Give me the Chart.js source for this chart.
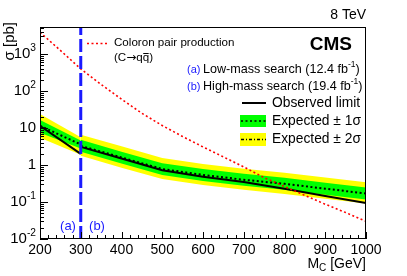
<!DOCTYPE html>
<html>
<head>
<meta charset="utf-8">
<script src="https://cdn.jsdelivr.net/npm/chart.js@4"></script>
<style>
  body { margin: 0; background: #fff; }
  canvas { display: block; }
</style>
</head>
<body>
<canvas id="grafico" width="407" height="276"></canvas>
<script>
// masses in GeV, cross sections in pb
const massLow = [200, 300];
const obsLow = [11.5, 2.0];
const expLow = [11.5, 3.6];
const g1LowUp = [16.5, 4.6];
const g1LowDn = [7.5, 2.8];
const y2LowUp = [24, 5.6];
const y2LowDn = [5.5, 1.9];

const massHigh = [300, 400, 500, 600, 700, 800, 900, 1000];
const obsHigh = [3.1, 1.5, 0.72, 0.48, 0.35, 0.23, 0.145, 0.094];
const expHigh = [3.3, 1.6, 0.78, 0.54, 0.40, 0.31, 0.23, 0.17];
const g1HighUp = [4.8, 2.3, 1.12, 0.78, 0.58, 0.45, 0.33, 0.245];
const g1HighDn = [2.3, 1.1, 0.54, 0.37, 0.275, 0.214, 0.158, 0.117];
const y2HighUp = [6.6, 3.2, 1.55, 1.07, 0.79, 0.62, 0.46, 0.34];
const y2HighDn = [1.78, 0.85, 0.42, 0.29, 0.214, 0.166, 0.123, 0.091];

const coloronMass = [200, 250, 300, 350, 400, 450, 500, 550, 600, 650, 700, 750, 800, 850, 900, 950, 1000];
const coloronXsec = [3890, 1260, 398, 151, 60.3, 25.1, 11.7, 5.9, 3.09, 1.66, 0.89, 0.457, 0.263, 0.151, 0.087, 0.052, 0.030];

const splitMass = [300, 300];
const splitXsec = [0.01, 5400];

const yDecades = [-2, -1, 0, 1, 2, 3];
const xTicks = [200, 300, 400, 500, 600, 700, 800, 900, 1000];

const FONT = "'Liberation Sans', Arial, sans-serif";

function pts(xs, ys) { return xs.map((v, i) => ({x: v, y: ys[i]})); }

function linea(data, color, width, dash) {
  return {data: data, borderColor: color, borderWidth: width, borderDash: dash || [],
          pointRadius: 0, fill: false, tension: 0};
}
function banda(data, color) {
  return {data: data, borderWidth: 0, borderColor: 'rgba(0,0,0,0)', backgroundColor: color,
          pointRadius: 0, fill: '+1', tension: 0};
}
function borde(data) {
  return {data: data, borderWidth: 0, borderColor: 'rgba(0,0,0,0)', pointRadius: 0, fill: false, tension: 0};
}

const VERDE = '#00ff00', AMARILLO = '#ffff00', AZUL = '#1a1aff', ROJO = '#ff0000';

// dibuja "base" con superindice, alineado a la derecha en xr
function potencia(ctx, base, sup, xr, yc, size) {
  ctx.font = size + 'px ' + FONT;
  const wb = ctx.measureText(base).width;
  ctx.font = (size * 0.68) + 'px ' + FONT;
  const ws = sup ? ctx.measureText(sup).width : 0;
  ctx.textAlign = 'left';
  ctx.textBaseline = 'middle';
  ctx.font = size + 'px ' + FONT;
  ctx.fillText(base, xr - ws - wb, yc);
  if (sup) {
    ctx.font = (size * 0.68) + 'px ' + FONT;
    ctx.fillText(sup, xr - ws, yc - size * 0.42);
  }
}

const extras = {
  id: 'extras',
  afterDraw(chart) {
    const {ctx, chartArea: a, scales: {x, y}} = chart;
    ctx.save();
    ctx.strokeStyle = '#000';
    ctx.lineWidth = 1;
    ctx.strokeRect(a.left + 0.5, a.top + 0.5, a.right - a.left - 1, a.bottom - a.top - 1);

    ctx.beginPath();
    for (let m = 200; m <= 1000; m += 20) {
      const px = Math.round(x.getPixelForValue(m)) + 0.5;
      const len = m % 100 === 0 ? 7 : 4;
      ctx.moveTo(px, a.bottom);
      ctx.lineTo(px, a.bottom - len);
    }
    for (let e = -2; e <= 3; e++) {
      for (let k = 1; k <= 9; k++) {
        const v = k * Math.pow(10, e);
        if (v > y.max) break;
        const py = Math.round(y.getPixelForValue(v)) + 0.5;
        ctx.moveTo(a.left, py);
        ctx.lineTo(a.left + (k === 1 ? 8 : 4), py);
      }
    }
    ctx.stroke();

    // etiquetas eje y
    ctx.fillStyle = '#000';
    yDecades.forEach(e => {
      const py = y.getPixelForValue(Math.pow(10, e));
      if (e === 0) potencia(ctx, '1', '', a.left - 4, py, 15);
      else if (e === 1) potencia(ctx, '10', '', a.left - 4, py, 15);
      else potencia(ctx, '10', String(e), a.left - 4, py, 15);
    });

    // titulo eje y
    ctx.save();
    ctx.translate(10, 22);
    ctx.rotate(-Math.PI / 2);
    ctx.font = '15px ' + FONT;
    ctx.textAlign = 'right';
    ctx.textBaseline = 'middle';
    ctx.fillText('\u03c3 [pb]', 0, 0);
    ctx.restore();

    // titulo eje x
    ctx.font = '14px ' + FONT;
    const w1 = ctx.measureText('M').width;
    const w3 = ctx.measureText(' [GeV]').width;
    ctx.font = '10px ' + FONT;
    const w2 = ctx.measureText('C').width;
    let xs = a.right - (w1 + w2 + w3);
    ctx.textAlign = 'left';
    ctx.textBaseline = 'middle';
    ctx.font = '14px ' + FONT;
    ctx.fillText('M', xs, 264);
    ctx.font = '10px ' + FONT;
    ctx.fillText('C', xs + w1, 268);
    ctx.font = '14px ' + FONT;
    ctx.fillText(' [GeV]', xs + w1 + w2, 264);

    // 8 TeV
    ctx.textAlign = 'right';
    ctx.font = '14px ' + FONT;
    ctx.fillText('8 TeV', a.right, 15);

    // CMS
    ctx.font = 'bold 19px ' + FONT;
    ctx.fillText('CMS', 352, 45);

    // (a) (b) abajo
    ctx.fillStyle = AZUL;
    ctx.textAlign = 'center';
    ctx.font = '13px ' + FONT;
    ctx.fillText('(a)', 68, 226);
    ctx.fillText('(b)', 97, 226);

    // leyenda coloron
    ctx.strokeStyle = ROJO;
    ctx.lineWidth = 1.6;
    ctx.setLineDash([2, 2.5]);
    ctx.beginPath();
    ctx.moveTo(87, 43.5);
    ctx.lineTo(108, 43.5);
    ctx.stroke();
    ctx.setLineDash([]);
    ctx.fillStyle = '#000';
    ctx.textAlign = 'left';
    ctx.font = '11.6px ' + FONT;
    ctx.fillText('Coloron pair production', 114, 43);
    let xc = 114;
    ctx.fillText('(C', xc, 58);
    xc += ctx.measureText('(C').width;
    ctx.font = "12px 'DejaVu Sans', sans-serif";
    ctx.fillText('\u2192', xc, 58);
    xc += ctx.measureText('\u2192').width;
    ctx.font = '11.6px ' + FONT;
    const wq = ctx.measureText('q').width;
    ctx.fillText('qq)', xc, 58);
    ctx.lineWidth = 1;
    ctx.strokeStyle = '#000';
    ctx.beginPath();
    ctx.moveTo(xc + wq + 0.5, 53.5);
    ctx.lineTo(xc + 2 * wq - 0.5, 53.5);
    ctx.stroke();

    // leyenda busquedas
    const filas = [['(a)', 'Low-mass search (12.4 fb', 70], ['(b)', 'High-mass search (19.4 fb', 87]];
    filas.forEach(f => {
      ctx.fillStyle = AZUL;
      ctx.font = '11px ' + FONT;
      ctx.fillText(f[0], 187, f[2]);
      ctx.fillStyle = '#000';
      ctx.font = '12.6px ' + FONT;
      ctx.fillText(f[1], 203, f[2]);
      let xx = 203 + ctx.measureText(f[1]).width;
      ctx.font = '8.5px ' + FONT;
      ctx.fillText('-1', xx, f[2] - 5);
      xx += ctx.measureText('-1').width;
      ctx.font = '12.6px ' + FONT;
      ctx.fillText(')', xx, f[2]);
    });

    // observado / esperado
    ctx.strokeStyle = '#000';
    ctx.lineWidth = 2;
    ctx.beginPath();
    ctx.moveTo(242, 103);
    ctx.lineTo(266, 103);
    ctx.stroke();
    ctx.fillStyle = VERDE;
    ctx.fillRect(240, 115, 26, 12);
    ctx.fillStyle = AMARILLO;
    ctx.fillRect(240, 133, 26, 13);
    ctx.lineWidth = 1.5;
    ctx.setLineDash([2, 2.5]);
    ctx.beginPath();
    ctx.moveTo(241, 121);
    ctx.lineTo(266, 121);
    ctx.stroke();
    ctx.setLineDash([3, 2, 1, 2]);
    ctx.beginPath();
    ctx.moveTo(241, 139.5);
    ctx.lineTo(266, 139.5);
    ctx.stroke();
    ctx.setLineDash([]);
    ctx.fillStyle = '#000';
    ctx.font = '13.8px ' + FONT;
    ctx.fillText('Observed limit', 272, 103);
    ctx.fillText('Expected \u00b1 1\u03c3', 272, 121);
    ctx.fillText('Expected \u00b1 2\u03c3', 272, 139);
    ctx.restore();
  }
};

const ctx = document.getElementById('grafico');

new Chart(ctx, {
  type: 'line',
  data: {
    datasets: [
      linea(pts(splitMass, splitXsec), AZUL, 3, [13, 4]),
      linea(pts(coloronMass, coloronXsec), ROJO, 1.6, [2, 2.5]),
      linea(pts(massLow, obsLow), '#000', 2),
      linea(pts(massHigh, obsHigh), '#000', 2),
      linea(pts(massLow, expLow), '#000', 2, [2, 2.5]),
      linea(pts(massHigh, expHigh), '#000', 2, [2, 2.5]),
      banda(pts(massLow, g1LowUp), VERDE),
      borde(pts(massLow, g1LowDn)),
      banda(pts(massHigh, g1HighUp), VERDE),
      borde(pts(massHigh, g1HighDn)),
      banda(pts(massLow, y2LowUp), AMARILLO),
      borde(pts(massLow, y2LowDn)),
      banda(pts(massHigh, y2HighUp), AMARILLO),
      borde(pts(massHigh, y2HighDn))
    ]
  },
  options: {
    responsive: false,
    devicePixelRatio: 1,
    animation: false,
    layout: { padding: { left: 0, right: 41, top: 27, bottom: 0 } },
    plugins: { legend: { display: false }, tooltip: { enabled: false } },
    scales: {
      x: {
        type: 'linear',
        min: 200,
        max: 1000,
        afterFit: s => { s.height = 37; },
        afterBuildTicks: s => { s.ticks = xTicks.map(v => ({value: v})); },
        grid: { display: false, drawTicks: false },
        border: { display: false },
        ticks: { color: '#000', font: { family: FONT, size: 14 }, padding: 3, maxRotation: 0, autoSkip: false,
                 callback: v => String(v) }
      },
      y: {
        type: 'logarithmic',
        min: 0.01,
        max: 5400,
        afterFit: s => { s.width = 40; },
        grid: { display: false, drawTicks: false },
        border: { display: false },
        ticks: { display: false }
      }
    }
  },
  plugins: [extras]
});
</script>
</body>
</html>
